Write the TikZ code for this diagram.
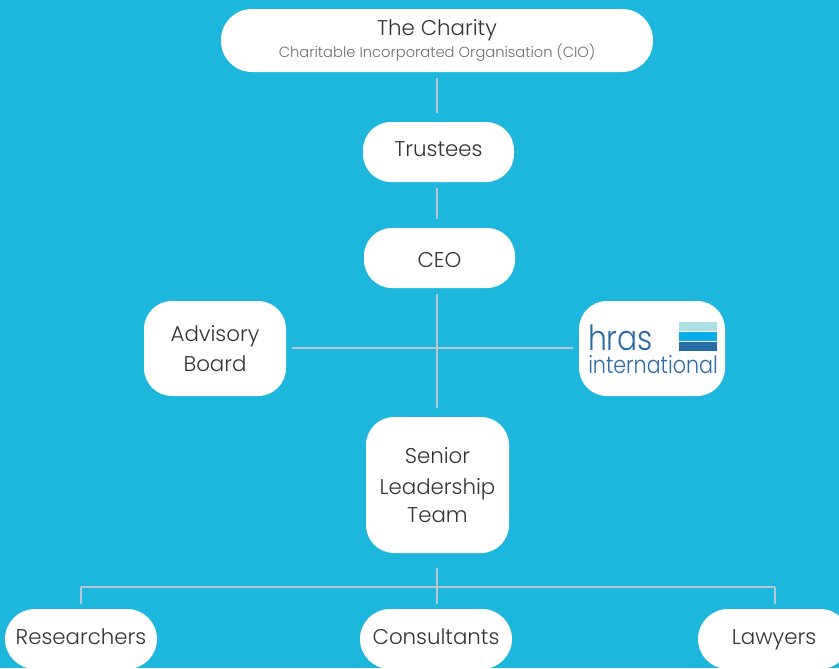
\documentclass[tikz,border=0pt]{standalone}
\usepackage{fontspec}
\setmainfont{Poppins Light}
\definecolor{himmel}{HTML}{1DB6DC}
\definecolor{linie}{HTML}{B6C7D1}
\definecolor{schrift}{HTML}{333333}
\definecolor{klein}{HTML}{6E6E6E}
\definecolor{hrasblau}{HTML}{2A6CA6}
\definecolor{hrasmitte}{HTML}{08ADEA}
\definecolor{hrashell}{HTML}{ABDFE3}
\tikzset{
box/.style={fill=white,rounded corners=28*0.75pt,text=schrift,align=center,inner sep=0pt,font=\fontsize{16}{21}\selectfont},
lift/.style={text height=8pt+#1,text depth=8pt-#1},
link/.style={draw=linie,line width=1.1pt,shorten <=4.5pt,shorten >=6.5pt},
barre/.style={draw=none,minimum width=38*0.75pt,minimum height=8.5*0.75pt,inner sep=0pt}
}
\begin{document}
\begin{tikzpicture}[x=0.75pt,y=-0.75pt]
\def\w{151*0.75pt}
\def\h{60*0.75pt}
\def\linie#1#2{
\draw[link] #1 -- #2;
}
\clip (0,0) rectangle (839,668);
\fill[himmel] (0,0) rectangle (839,668);
\node[box,rounded corners=31*0.75pt,minimum width=432*0.75pt,minimum height=63*0.75pt] (charity) at (437,40.5) {};
\node[text=schrift,font=\fontsize{16}{20}\selectfont] (charitytitle) at (437,30) {The Charity};
\node[text=klein,font=\fontsize{11}{13}\selectfont] (charitysub) at (437,53) {Charitable Incorporated Organisation (CIO)};
\node[box,lift=3.3pt,minimum width=\w,minimum height=\h] (trustees) at (438.5,152) {Trustees};
\node[box,lift=7pt,minimum width=\w,minimum height=\h] (ceo) at (439.5,258) {CEO};
\node[box,minimum width=142*0.75pt,minimum height=95*0.75pt] (advisory) at (215,348.5) {Advisory\\[1.5pt]Board};
\node[box,minimum width=146*0.75pt,minimum height=95*0.75pt] (hras) at (652,348.5) {};
\node[box,minimum width=143*0.75pt,minimum height=136*0.75pt] (senior) at (437.5,485) {Senior\\[2pt]Leadership\\Team};
\node[box,lift=4pt,rounded corners=30*0.75pt,minimum width=152*0.75pt,minimum height=\h] (researchers) at (81,639) {Researchers};
\node[box,lift=4pt,rounded corners=30*0.75pt,minimum width=152*0.75pt,minimum height=\h] (consultants) at (436,639) {Consultants};
\node[box,lift=4pt,rounded corners=30*0.75pt,minimum width=152*0.75pt,minimum height=\h] (lawyers) at (774,639) {Lawyers};
% logo
\node[text=hrasblau,font=\fontsize{26}{26}\selectfont,inner sep=0pt,transform shape,xscale=0.86] (hrasname) at (620.5,338) {hras};
\node[text=hrasblau,font=\fontsize{18}{18}\selectfont,inner sep=0pt,transform shape,xscale=0.86] (hrasint) at (653,365) {international};
\node[barre,fill=hrashell] (barre1) at (698,326.7) {};
\node[barre,fill=hrasmitte] (barre2) at (698,336.5) {};
\node[barre,fill=hrasblau] (barre3) at (698,346.7) {};
% connectors
\coordinate (busleft) at (81,587);
\coordinate (busmid) at (437,587);
\coordinate (busright) at (775,587);
\linie{(charity.south)}{(trustees.north -| charity)}
\linie{(trustees.south -| charity)}{(ceo.north -| charity)}
\linie{(ceo.south -| charity)}{(senior.north -| charity)}
\draw[link,line width=1.4pt,shorten >=4.5pt] ([yshift=0.4pt]advisory.east) -- ([yshift=0.4pt]hras.west);
\draw[link,shorten <=11pt,shorten >=0pt] (senior.south -| busmid) -- (busmid);
\draw[link,shorten <=0pt,shorten >=3.8pt] (busmid) -- (consultants.north -| busmid);
\draw[draw=linie,line width=1.4pt] (busleft) -- (busmid) -- (busright);
\draw[link,shorten <=0pt,shorten >=3.8pt] (busleft) -- (researchers.north);
\draw[link,shorten <=0pt,shorten >=3.8pt] (busright) -- (lawyers.north -| busright);
\end{tikzpicture}
\end{document}
